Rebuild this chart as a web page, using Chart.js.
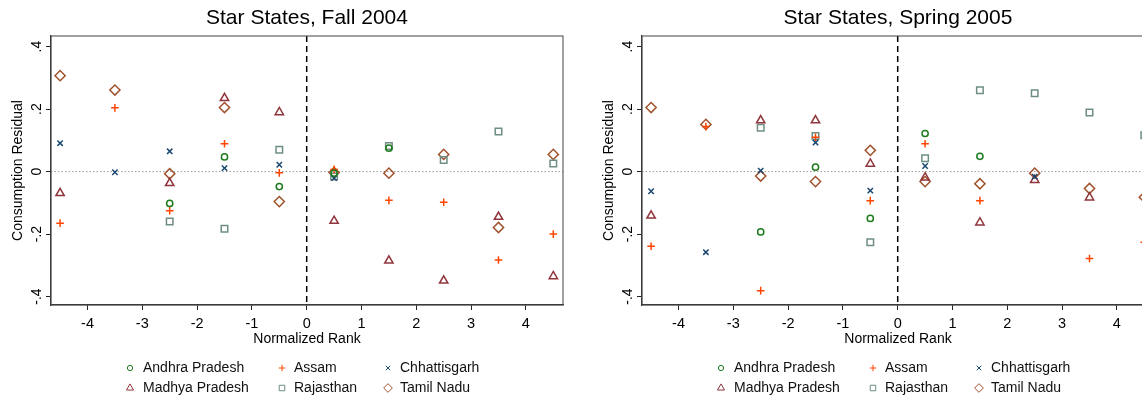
<!DOCTYPE html>
<html>
<head>
<meta charset="utf-8">
<script src="https://cdn.jsdelivr.net/npm/chart.js@4"></script>
<style>
  html, body { margin: 0; padding: 0; background: #fff; }
  #wrap { position: relative; width: 1142px; height: 396px; overflow: hidden; }
  .panel { position: absolute; top: 0; width: 590px; height: 396px; }
</style>
</head>
<body>
<div id="wrap">
  <div class="panel" style="left:0px;"><canvas id="fall"></canvas></div>
  <div class="panel" style="left:591px;"><canvas id="spring"></canvas></div>
</div>
<script>
// normalized rank positions (x) and axis ticks
const ranks = [-4.5, -3.5, -2.5, -1.5, -0.5, 0.5, 1.5, 2.5, 3.5, 4.5];
const xTicks = [-4, -3, -2, -1, 0, 1, 2, 3, 4];
const yTicks = [-0.4, -0.2, 0, 0.2, 0.4];
const yTickLabels = ['-.4', '-.2', '0', '.2', '.4'];

const states = ['Andhra Pradesh', 'Assam', 'Chhattisgarh', 'Madhya Pradesh', 'Rajasthan', 'Tamil Nadu'];

// Fall 2004 residuals, one array per state (null = no point)
const fallAndhra   = [null, null, -0.102, 0.047, -0.048, -0.005, 0.075, null, null, null];
const fallAssam    = [-0.165, 0.204, -0.125, 0.089, -0.004, 0.007, -0.092, -0.098, -0.283, -0.200];
const fallChhatt   = [0.091, -0.002, 0.065, 0.011, 0.022, -0.021, null, null, null, null];
const fallMadhya   = [-0.069, null, -0.037, 0.235, 0.190, -0.158, -0.285, -0.349, -0.145, -0.335];
const fallRajas    = [null, null, -0.160, -0.183, 0.070, -0.016, 0.082, 0.037, 0.128, 0.026];
const fallTamil    = [0.307, 0.261, -0.007, 0.205, -0.096, -0.003, -0.005, 0.055, -0.179, 0.055];

// Spring 2005 residuals
const springAndhra = [null, null, -0.193, 0.014, -0.150, 0.122, 0.049, null, null, null];
const springAssam  = [-0.239, 0.144, -0.381, 0.110, -0.093, 0.089, -0.093, null, -0.278, -0.226];
const springChhatt = [-0.063, -0.258, 0.003, 0.093, -0.061, 0.018, null, -0.016, null, null];
const springMadhya = [-0.141, null, 0.164, 0.164, 0.025, -0.019, -0.163, -0.027, -0.083, null];
const springRajas  = [null, null, 0.140, 0.114, -0.226, 0.043, 0.260, 0.251, 0.189, 0.116];
const springTamil  = [0.205, 0.151, -0.014, -0.032, 0.068, -0.032, -0.039, -0.005, -0.054, -0.082];

const COLORS = ['#1e7b1e', '#ff4500', '#1a476f', '#90353b', '#6e8e84', '#a0522d'];
const STYLES = ['circle', 'cross', 'crossRot', 'triangle', 'rect', 'rectRot'];
const RADII  = [3.1, 3.8, 3.8, 4.8, 4.6, 5.1];

Chart.defaults.font.family = "'Liberation Sans', Arial, sans-serif";
Chart.defaults.color = '#000';

// legend slots (marker x, text x, y) inside each panel
const LEG_MX = [130, 282, 388];
const LEG_TX = [143, 294, 400];
const LEG_Y  = [368, 388];

const decor = {
  id: 'decor',
  beforeDatasetsDraw(chart) {
    const { ctx, chartArea: a, scales: { x, y } } = chart;
    ctx.save();
    // zero reference line
    const y0 = y.getPixelForValue(0);
    ctx.strokeStyle = '#999';
    ctx.lineWidth = 1;
    ctx.setLineDash([1.5, 2]);
    ctx.beginPath();
    ctx.moveTo(a.left, y0);
    ctx.lineTo(a.right, y0);
    ctx.stroke();
    // rank 0 cutoff
    const x0 = x.getPixelForValue(0);
    ctx.strokeStyle = '#000';
    ctx.lineWidth = 1.5;
    ctx.setLineDash([6, 4]);
    ctx.beginPath();
    ctx.moveTo(x0, a.top);
    ctx.lineTo(x0, a.bottom);
    ctx.stroke();
    ctx.setLineDash([]);
    // plot box
    ctx.strokeStyle = '#444';
    ctx.lineWidth = 1;
    ctx.strokeRect(a.left, a.top, a.right - a.left, a.bottom - a.top);
    ctx.restore();
  },
  afterDraw(chart) {
    const { ctx, scales: { y } } = chart;
    ctx.save();
    // rotated y tick labels
    ctx.fillStyle = '#000';
    ctx.font = "14px 'Liberation Sans', Arial, sans-serif";
    ctx.textAlign = 'center';
    ctx.textBaseline = 'middle';
    yTicks.forEach((v, i) => {
      ctx.save();
      ctx.translate(37, y.getPixelForValue(v));
      ctx.rotate(-Math.PI / 2);
      ctx.fillText(yTickLabels[i], 0, 0);
      ctx.restore();
    });
    // legend
    ctx.textAlign = 'left';
    states.forEach((name, i) => {
      const col = i % 3, row = Math.floor(i / 3);
      const my = LEG_Y[row];
      ctx.strokeStyle = COLORS[i];
      ctx.fillStyle = 'rgba(0,0,0,0)';
      Chart.helpers.drawPoint(ctx, {
        pointStyle: STYLES[i], radius: RADII[i] * 0.85, rotation: 0, borderWidth: 1.5
      }, LEG_MX[col], my);
      ctx.fillStyle = '#111';
      ctx.fillText(name, LEG_TX[col], my);
    });
    ctx.restore();
  }
};

function makeChart(id, title, series) {
  const datasets = series.map((vals, i) => ({
    label: states[i],
    data: ranks.map((r, k) => ({ x: r, y: vals[k] })).filter(p => p.y !== null),
    pointStyle: STYLES[i],
    pointRadius: RADII[i],
    pointHoverRadius: RADII[i],
    borderColor: COLORS[i],
    backgroundColor: 'rgba(0,0,0,0)',
    pointBorderWidth: 1.5,
    borderWidth: 1.5,
    showLine: false,
  }));

  return new Chart(document.getElementById(id), {
    type: 'scatter',
    data: { datasets },
    options: {
      responsive: true,
      maintainAspectRatio: false,
      animation: false,
      layout: { padding: { left: 0, right: 27, top: 0, bottom: 46 } },
      plugins: {
        legend: { display: false },
        tooltip: { enabled: false },
        title: {
          display: true,
          text: title,
          fullSize: false,
          color: '#000',
          font: { size: 21, weight: 'normal' },
          padding: { top: 6, bottom: 4.8 },
        },
      },
      scales: {
        x: {
          type: 'linear',
          min: -4.666,
          max: 4.677,
          afterBuildTicks: s => { s.ticks = xTicks.map(v => ({ value: v })); },
          afterFit: s => { s.height = 45; },
          ticks: { font: { size: 14.5 }, color: '#000', padding: 5, maxRotation: 0, callback: v => String(v) },
          grid: { drawOnChartArea: false, tickLength: 5, tickColor: '#222', tickWidth: 1 },
          border: { color: '#333', width: 1.2 },
          title: { display: true, text: 'Normalized Rank', font: { size: 14 }, color: '#000', padding: { top: 0, bottom: 2.6 } },
        },
        y: {
          type: 'linear',
          min: -0.427,
          max: 0.434,
          afterBuildTicks: s => { s.ticks = yTicks.map(v => ({ value: v })); },
          afterFit: s => { s.width = 51; },
          ticks: { display: false },
          grid: { drawOnChartArea: false, tickLength: 5, tickColor: '#222', tickWidth: 1 },
          border: { color: '#333', width: 1.2 },
          title: { display: true, text: 'Consumption Residual', font: { size: 14 }, color: '#000', padding: { top: 9.6, bottom: 0 } },
        },
      },
    },
    plugins: [decor],
  });
}

makeChart('fall', 'Star States, Fall 2004',
  [fallAndhra, fallAssam, fallChhatt, fallMadhya, fallRajas, fallTamil]);
makeChart('spring', 'Star States, Spring 2005',
  [springAndhra, springAssam, springChhatt, springMadhya, springRajas, springTamil]);
</script>
</body>
</html>
